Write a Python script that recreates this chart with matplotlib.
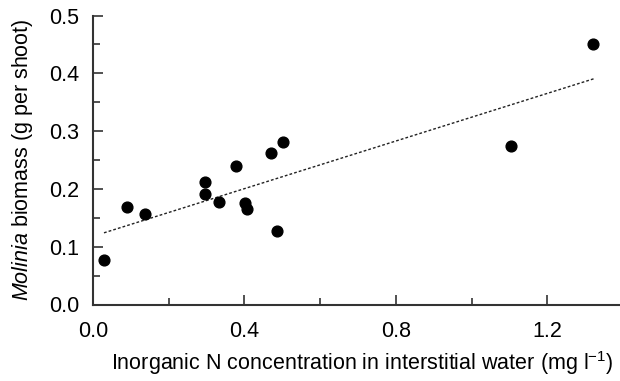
import numpy as np
import matplotlib
matplotlib.use("Agg")
import matplotlib.pyplot as plt

plt.rcParams['font.family'] = ['Liberation Sans', 'DejaVu Sans']
plt.rcParams['mathtext.fontset'] = 'custom'
plt.rcParams['mathtext.rm'] = 'Liberation Sans'
plt.rcParams['mathtext.it'] = 'Liberation Sans:italic'

## data ##
n_conc = [0.029, 0.090, 0.137, 0.295, 0.296, 0.334, 0.378, 0.401, 0.408,
          0.470, 0.501, 0.485, 1.104, 1.322]
biomass = [0.077, 0.169, 0.156, 0.192, 0.212, 0.177, 0.240, 0.175, 0.165,
           0.262, 0.281, 0.128, 0.275, 0.451]

# regression line endpoints
fit_x = [0.029, 1.325]
fit_y = [0.124, 0.391]

xticks = [0.0, 0.4, 0.8, 1.2]
yticks = [0.0, 0.1, 0.2, 0.3, 0.4, 0.5]

fig = plt.figure(figsize=(6.2, 3.81), dpi=100)
ax = fig.add_axes([93 / 620, 76.5 / 381, 527 / 620, 289 / 381])

ax.plot(fit_x, fit_y, color='#222222', linestyle=(0, (2, 1.5)), linewidth=1.0)
ax.scatter(n_conc, biomass, s=60, color='black', zorder=3, clip_on=False)

ax.set_xlim(0, 1.392)
ax.set_ylim(0, 0.5)
ax.set_xticks(xticks)
ax.set_xticklabels(['0.0', '0.4', '0.8', '1.2'])
ax.set_yticks(yticks)
ax.set_yticklabels(['0.0', '0.1', '0.2', '0.3', '0.4', '0.5'])
ax.set_xticks([0.2, 0.6, 1.0], minor=True)
ax.set_yticks([0.05, 0.15, 0.25, 0.35, 0.45], minor=True)

ax.tick_params(which='both', direction='in', width=1.2, colors='#333333',
               labelcolor='black', labelsize=15.5)
ax.tick_params(which='major', length=7)
ax.tick_params(which='minor', length=5)
ax.tick_params(axis='x', pad=12)
ax.tick_params(axis='y', pad=10)

for s in ['top', 'right']:
    ax.spines[s].set_visible(False)
for s in ['left', 'bottom']:
    ax.spines[s].set_linewidth(1.5)
    ax.spines[s].set_color('#333333')

ax.set_xlabel(r'Inorganic N concentration in interstitial water (mg l$^{-1}$)',
              fontsize=15.5, labelpad=5)
ax.set_ylabel(r'$\mathit{Molinia}$ biomass (g per shoot)', fontsize=15.5,
              labelpad=10)
ax.xaxis.label.set_position((0.51, 0))

fig.savefig('out.png', dpi=100)
